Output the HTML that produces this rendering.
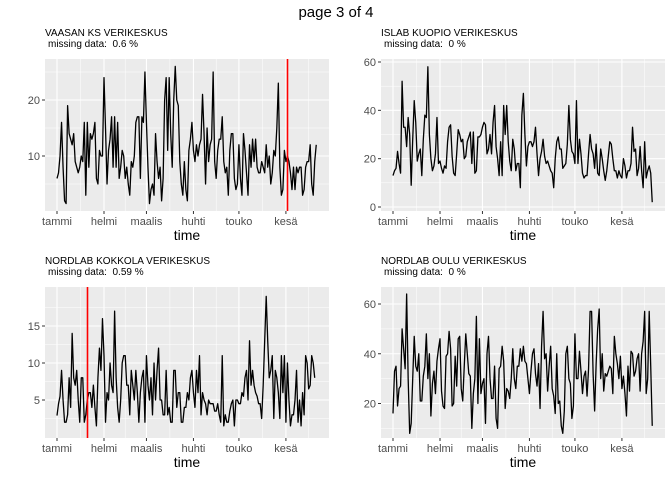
<!DOCTYPE html>
<html><head><meta charset="utf-8"><style>
body{margin:0;background:#fff;}
svg{display:block;font-family:"Liberation Sans",sans-serif;}
.pre{white-space:pre;}
</style></head><body>
<svg id="c" width="672" height="480">
<text x="336" y="17" text-anchor="middle" font-size="15">page 3 of 4</text>
</svg>
<script>
const monthLabels = ["tammi","helmi","maalis","huhti","touko","kesä"];
const monthDays = [0,31,59,90,120,151];
const vaasaValues = [6,7,10,16,8,2,1.5,19,14,13,12,14,9,8,7,8,10,9,16,3,16,8,14,13,14,16,6,5,11,10,10,24,15,5,11,13,17,8,17,8,16,6,8,11,10,6,8,5,3,9,8,10,16,17,17,6,17,16,25,16,8,1.5,4,5,3,14,9,6,8,2,6,20,24,11,24,14,8,20,26,20,19,9,5,3,9,4,2,11,13,16,11,9,12,10,12,13,21,14,5,15,9,12,13,25,9,6,11,13,13,17,9,7,8,3,11,14,14,6,4,5,12,6,3,14,11,7,3,12,8,13,9,13,8,7,7,9,8,7,12,8,10,5,7,11,10,15,23,8,3,4,11,9,10,9,7,4,8,4,8,7,8,8,3,4,8,9,9,12,5,3,9,12];
const kuopioValues = [13,15,16,23,18,14,52,33,33,25,37,30,9,28,44,35,19,22,24,13,28,38,37,58,30,20,15,17,22,37,18,19,16,14,17,16,27,33,34,21,14,13,22,32,30,27,28,20,21,27,29,31,18,31,14,15,29,29,30,33,35,34,22,24,30,22,35,42,25,20,13,27,13,42,30,42,27,19,15,28,24,15,18,18,8,38,47,30,17,25,27,27,25,27,33,22,13,20,23,28,21,18,19,17,15,14,8,20,27,29,24,24,16,17,18,26,42,28,23,22,18,44,18,28,22,14,12,13,13,22,30,24,22,16,26,14,13,24,20,15,11,15,21,27,26,20,15,15,12,15,13,12,20,17,12,15,15,18,33,23,24,13,16,25,15,8,27,12,15,17,14,2];
const kokkolaValues = [2.9,4.5,5.5,9,5,2,2,3,8,4,14,8,7,9,5,2,8,8,2,3,5,6,6,4,7,4,1.5,8,12,9,16,11,2,6,5,10,7,6,17,8,4,2,5,10,11,11,7,7,3,9,7,5,9,6,2,6,8,9,2,11,7,5,8,3,10,5,9,12,5,5,3,3,9,3,4,2,2,9,9,4,6,6,2,2,4,4,6,5,8,9,6,4,9,6,11,3,6,5,4.5,3,5,4.5,4.5,4.5,3.5,3.5,4.5,3,2,11,1.5,3,2,2,3.5,4.5,5,1.5,5,5,4.5,4.5,6,5.5,8,9,5,13,7,9,7,6,5.5,4.5,4.5,2.5,7,13,19,13,8,9,11,2.5,9,8,6,2.5,11,6,11,2,10,5,1.5,3,3,5,9,2,5,1.5,6,3,11,10,6.5,7,11,10,8];
const ouluValues = [16,33,35,19,26,27,50,42,34,64,30,8,12,30,47,35,33,40,21,21,31,35,48,30,40,15,28,33,24,37,42,46,25,19,18,39,40,49,42,19,20,39,27,46,47,26,21,35,48,40,32,31,10,24,30,55,20,46,24,28,30,12,40,47,30,22,22,35,14,10,34,35,43,37,18,26,25,22,30,42,30,26,35,35,42,37,43,37,36,30,24,33,40,42,32,27,36,18,43,57,38,40,25,35,43,26,23,16,40,20,21,11,8,17,40,43,30,28,14,19,48,30,30,41,33,24,31,33,23,34,57,57,32,17,36,50,58,30,40,25,32,31,33,35,34,24,47,40,36,30,39,26,31,24,15,35,25,41,40,31,33,38,40,25,40,45,57,24,30,57,35,11];

const NS="http://www.w3.org/2000/svg";
const svg=document.getElementById('c');
function mk(tag,attrs,parent){const e=document.createElementNS(NS,tag);for(const k in attrs)e.setAttribute(k,attrs[k]);(parent||svg).appendChild(e);return e;}

const panels=[
 {title:"VAASAN KS VERIKESKUS",miss:"missing data:  0.6 %",left:45,right:329,top:59,bottom:211,v1:20,y1:100,v2:10,y2:156,ticks:[10,20],minor:[5,15,25],data:vaasaValues,red:152,key:"vaasa"},
 {title:"ISLAB KUOPIO VERIKESKUS",miss:"missing data:  0 %",left:381,right:665,top:59,bottom:211,v1:60,y1:62,v2:0,y2:207,ticks:[0,20,40,60],minor:[10,30,50],data:kuopioValues,red:null,key:"kuopio"},
 {title:"NORDLAB KOKKOLA VERIKESKUS",miss:"missing data:  0.59 %",left:45,right:329,top:287,bottom:438,v1:15,y1:326,v2:5,y2:400,ticks:[5,10,15],minor:[2.5,7.5,12.5,17.5],data:kokkolaValues,red:20,key:"kokkola"},
 {title:"NORDLAB OULU VERIKESKUS",miss:"missing data:  0 %",left:381,right:665,top:287,bottom:438,v1:60,y1:304,v2:20,y2:403.5,ticks:[20,40,60],minor:[10,30,50],data:ouluValues,red:null,key:"oulu"}
];

panels.forEach(p=>{
 const g=mk('g',{});
 
 
 const xs=d=>p.left+12+d*1.516;
 const ys=v=>p.y1+(v-p.v1)*(p.y2-p.y1)/(p.v2-p.v1);
 const bg=mk('rect',{x:p.left,y:p.top,width:p.right-p.left,height:p.bottom-p.top,fill:'#EBEBEB'},g);
 
 
 p.minor.forEach(v=>{const y=ys(v);if(y>p.top&&y<p.bottom)mk('line',{x1:p.left,x2:p.right,y1:y,y2:y,stroke:'#fff','stroke-width':0.5},g);});
 for(let i=0;i<monthDays.length;i++){const nd=i<monthDays.length-1?monthDays[i+1]:monthDays[i]+30;const x=xs((monthDays[i]+nd)/2);if(x<p.right)mk('line',{x1:x,x2:x,y1:p.top,y2:p.bottom,stroke:'#fff','stroke-width':0.5},g);}
 p.ticks.forEach(v=>{const y=ys(v);
  mk('line',{x1:p.left,x2:p.right,y1:y,y2:y,stroke:'#fff','stroke-width':1.1},g);
  mk('line',{x1:p.left-3,x2:p.left,y1:y,y2:y,stroke:'#333','stroke-width':1},g);
  const t=mk('text',{x:p.left-5,y:y+4,'text-anchor':'end','font-size':11,fill:'#4D4D4D'},g);t.textContent=v;
  
  
 });
 monthDays.forEach((d,i)=>{const x=xs(d);
  mk('line',{x1:x,x2:x,y1:p.top,y2:p.bottom,stroke:'#fff','stroke-width':1.1},g);
  mk('line',{x1:x,x2:x,y1:p.bottom,y2:p.bottom+3,stroke:'#333','stroke-width':1},g);
  const t=mk('text',{x:x,y:p.bottom+14,'text-anchor':'middle','font-size':11,fill:'#4D4D4D'},g);t.textContent=monthLabels[i];
  
  
 });
 const pts=p.data.map((v,i)=>xs(i).toFixed(2)+','+ys(v).toFixed(2)).join(' ');
 const line=mk('polyline',{points:pts,fill:'none',stroke:'#000','stroke-width':1.3,'stroke-linejoin':'round'},g);
 
 
 if(p.red!==null){const x=Math.round(xs(p.red))+0.5;const r=mk('line',{x1:x,x2:x,y1:p.top,y2:p.bottom,stroke:'#FF0000','stroke-width':1.6},g);
  
  }
 const t1=mk('text',{x:p.left,y:p.top-23,'font-size':10,fill:'#000'},g);t1.textContent=p.title;
 
 
 const t2=mk('text',{x:p.left+3,y:p.top-12,'font-size':10,fill:'#000',class:'pre'},g);t2.textContent=p.miss;
 
 
 const t3=mk('text',{x:(p.left+p.right)/2,y:p.bottom+29,'text-anchor':'middle','font-size':14,fill:'#000'},g);t3.textContent='time';
 
 
});
</script>
</body></html>
